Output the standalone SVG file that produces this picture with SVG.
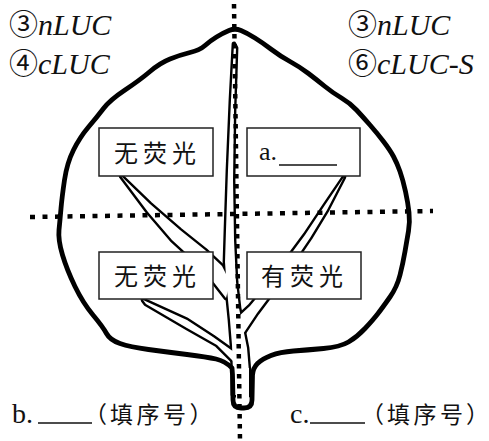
<svg xmlns="http://www.w3.org/2000/svg" width="489" height="441" viewBox="0 0 489 441">
  <style>
    .leaf { fill: none; stroke: #000; stroke-width: 4.8; stroke-linejoin: round; stroke-linecap: round; }
    .edge { fill: none; stroke: #000; stroke-width: 4.8; stroke-linejoin: round; }
    .core { fill: #fff; stroke: none; }
    .box rect { fill: #fff; stroke: #222; stroke-width: 1.5; }
    .cjk { font-family: "Noto Sans CJK SC", sans-serif; fill: #111; }
    .lat { font-family: "Liberation Serif", serif; fill: #111; }
    .it { font-family: "Liberation Serif", serif; font-style: italic; font-size: 30px; fill: #111; }
    .circ { font-family: "Noto Sans CJK SC", sans-serif; font-style: normal; font-size: 29px; }
    .dots { fill: none; stroke: #000; stroke-width: 4.5; }
  </style>
  <defs>
    <!-- midrib and side veins, each a tapering band -->
    <path id="midrib" d="M234,44 L231,100 L228,170 L226,230 L225,262 L227,290 L230,320 L232,345 L233,372 L233,395 L249,395 L249,372 L247,348 L243,328 L239,308 L236,282 L234,240 L233,180 L234,110 L236,48 Z"/>
    <path id="veinUL" d="M121,176 L150,204 L180,230 L205,250 L222,266 L230,282 L226,298 L212,280 L196,262 L172,240 L148,212 Z"/>
    <path id="veinLL" d="M143,300 L187,320 L213,337 L234,352 L234,362 L217,345 L187,328 L146,304 Z"/>
    <path id="veinUR" d="M344,177 L325,205 L305,235 L285,262 L265,288 L250,306 L237,318 L243,334 L257,313 L272,293 L291,266 L310,238 L327,210 Z"/>
  </defs>

  <!-- construct labels -->
  <g id="label-left">
    <text class="it" x="9" y="35"><tspan class="circ">③</tspan>nLUC</text>
    <text class="it" x="9" y="74"><tspan class="circ">④</tspan>cLUC</text>
  </g>
  <g id="label-right">
    <text class="it" x="348" y="35"><tspan class="circ">③</tspan>nLUC</text>
    <text class="it" x="348" y="74"><tspan class="circ">⑥</tspan>cLUC-S</text>
  </g>

  <!-- leaf veins -->
  <g id="veins">
    <use href="#veinUL" class="edge"/>
    <use href="#veinLL" class="edge"/>
    <use href="#veinUR" class="edge"/>
    <use href="#midrib" class="edge"/>
    <use href="#veinUL" class="core"/>
    <use href="#veinLL" class="core"/>
    <use href="#veinUR" class="core"/>
    <use href="#midrib" class="core"/>
    <rect x="236" y="368" width="13" height="37" fill="#fff"/>
  </g>

  <!-- leaf outline with stalk -->
  <path id="leaf" class="leaf" d="M232,368 Q225,361 216,359 Q207,357 187,354.5 Q167,352 148.5,349.5 Q130,347 120,343.5 Q110,340 106.5,333.5 Q103,327 93,315 Q83,303 75,286.5 Q67,270 62.5,255 Q58,240 59,230 Q60,220 61,208.5 Q62,197 64.5,180 Q67,163 73.5,150 Q80,137 88.5,127 Q97,117 103.5,108.5 Q110,100 125,90 Q140,80 150,71.5 Q160,63 170,59 Q180,55 190,52.5 Q200,50 205,45.5 Q210,41 216.5,37 Q223,33 229,30.5 Q235,28 241,30.5 Q247,33 255,38 Q263,43 271.5,49.5 Q280,56 290,61.5 Q300,67 308.5,73.5 Q317,80 325,86.5 Q333,93 341.5,98 Q350,103 356.5,110 Q363,117 370,125 Q377,133 383.5,141.5 Q390,150 393.5,156.5 Q397,163 400,171.5 Q403,180 405.5,191.5 Q408,203 409,212.5 Q410,222 408.5,231 Q407,240 405,251.5 Q403,263 400,275 Q397,287 390,297 Q383,307 378,313.5 Q373,320 365,328.5 Q357,337 348.5,342 Q340,347 323.5,348.5 Q307,350 293.5,351 Q280,352 271,355.5 Q262,359 257.5,363.5 Q253,368 252.5,375 L252,400 Q252,408 244,408 L241,408 Q233,408 233,400 L232.5,375 Z"/>

  <!-- result boxes -->
  <g id="box-ul" class="box">
    <rect x="99" y="128" width="114" height="48"/>
    <text class="cjk" x="114" y="162" font-size="24" letter-spacing="5">无荧光</text>
  </g>
  <g id="box-ur" class="box">
    <rect x="247" y="128" width="113" height="48"/>
    <text class="lat" x="259" y="160" font-size="26">a.</text>
    <line x1="279" y1="165" x2="337" y2="165" stroke="#111" stroke-width="1.3"/>
  </g>
  <g id="box-ll" class="box">
    <rect x="99" y="252" width="114" height="47"/>
    <text class="cjk" x="114" y="285" font-size="24" letter-spacing="5">无荧光</text>
  </g>
  <g id="box-lr" class="box">
    <rect x="247" y="252" width="114" height="47"/>
    <text class="cjk" x="261" y="285" font-size="24" letter-spacing="5">有荧光</text>
  </g>

  <!-- dividing dotted lines -->
  <g id="connectors">
    <line class="dots" x1="234" y1="4" x2="240" y2="441" stroke-dasharray="4.5 5.5"/>
    <line class="dots" x1="30" y1="217" x2="433" y2="211" stroke-dasharray="5 7.5"/>
  </g>

  <!-- answer blanks -->
  <g id="answer-b">
    <text class="lat" x="12" y="423" font-size="28">b.</text>
    <line x1="38" y1="423" x2="92" y2="423" stroke="#111" stroke-width="1.3"/>
    <text class="cjk" x="84 110 136.5 163 189.5" y="423" font-size="23">（填序号）</text>
  </g>
  <g id="answer-c">
    <text class="lat" x="290" y="423" font-size="28">c.</text>
    <line x1="310" y1="423" x2="365" y2="423" stroke="#111" stroke-width="1.3"/>
    <text class="cjk" x="361 387 413.5 440 466" y="423" font-size="23">（填序号）</text>
  </g>
</svg>
